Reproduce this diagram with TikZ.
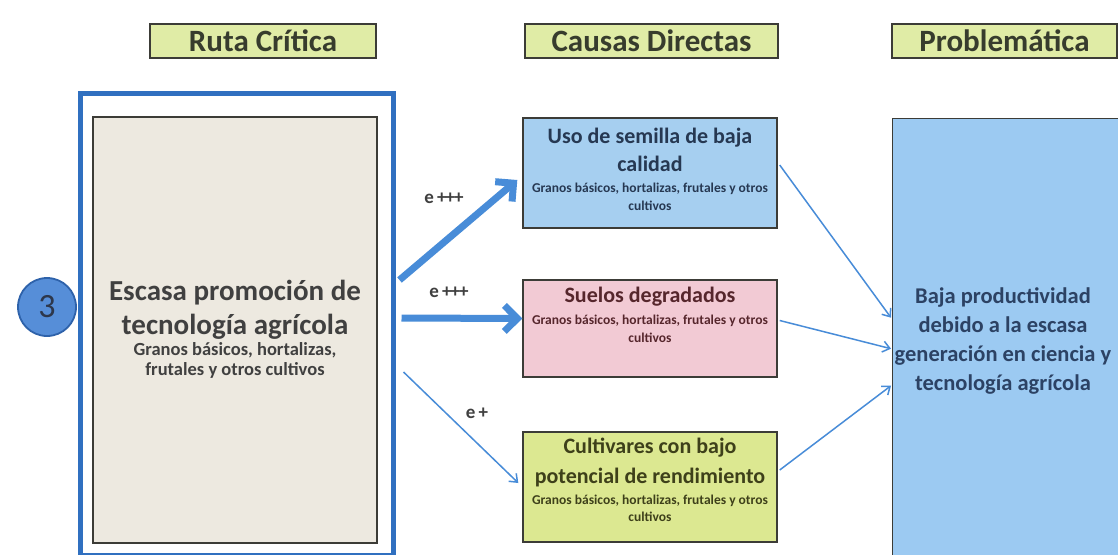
\documentclass[tikz,border=0pt]{standalone}
\usepackage{fontspec}
\setmainfont{Carlito}
\usetikzlibrary{positioning,arrows.meta}
\definecolor{headfill}{RGB}{224,236,166}
\definecolor{headtext}{RGB}{55,60,45}
\definecolor{boxline}{RGB}{60,60,55}
\definecolor{framblue}{RGB}{48,112,192}
\definecolor{arrowblue}{RGB}{72,140,216}
\definecolor{beigefill}{RGB}{237,233,224}
\definecolor{semillafill}{RGB}{166,207,240}
\definecolor{suelofill}{RGB}{242,202,212}
\definecolor{cultfill}{RGB}{220,232,145}
\definecolor{probfill}{RGB}{156,202,242}
\definecolor{numfill}{RGB}{86,142,216}
\definecolor{numline}{RGB}{46,98,170}
\colorlet{rutatext}{black!75}
\definecolor{numtext}{RGB}{45,55,75}
\definecolor{semillatext}{RGB}{38,56,82}
\definecolor{suelotext}{RGB}{86,38,44}
\definecolor{culttext}{RGB}{62,64,26}
\definecolor{probtext}{RGB}{44,66,100}

\begin{document}
\begin{tikzpicture}[x=1pt,y=1pt, every node/.style={font=\bfseries}]
        \clip (0,0) rectangle (1118,-554);
        \fill[white] (0,0) rectangle (1118,-554);
        \tikzset{
          encabezado/.style={draw=boxline,line width=1.3pt,fill=headfill,text=headtext,minimum height=34pt,inner sep=0pt,font=\bfseries\fontsize{31}{34}\selectfont},
          causa/.style={draw=boxline,line width=1.4pt,minimum width=254pt},
          titulo/.style={align=center,inner sep=0pt,font=\bfseries\fontsize{22}{28}\selectfont},
          detalle/.style={align=center,inner sep=0pt,font=\bfseries\fontsize{13.5}{18}\selectfont},
          grueso/.style={draw=arrowblue,line width=7pt,-{Straight Barb[length=13pt,width=26pt]}},
          fino/.style={draw=arrowblue,line width=1.5pt,-{Straight Barb[length=7pt,width=11pt]}},
          peso/.style={font=\bfseries\fontsize{19}{22}\selectfont,text=black!75,inner sep=1pt}
        }
        % encabezados
        \node[encabezado,minimum width=226pt] (hruta) at (263,-41) {Ruta Crítica};
        \node[encabezado,minimum width=253pt] (hcausas) at (651.5,-41) {Causas Directas};
        \node[encabezado,minimum width=225pt] (hprob) at (1004.5,-41) {Problemática};
        % ruta critica
        \node[draw=framblue,line width=5pt,minimum width=313pt,minimum height=462pt] (marco) at (236.5,-324) {};
        \node[draw=boxline,line width=1.2pt,fill=beigefill,minimum width=284pt,minimum height=426pt] (ruta) at (235,-330) {};
        \node[align=center,inner sep=0pt,text=rutatext,font=\bfseries\fontsize{29}{34}\selectfont] (rutatit) at ([yshift=20]ruta.center) {Escasa promoción de\\tecnología agrícola};
        \node[align=center,inner sep=0pt,text=rutatext,font=\bfseries\fontsize{18.5}{20}\selectfont,below=2pt of rutatit] (rutasub) {Granos básicos, hortalizas,\\frutales y otros cultivos};
        \node[circle,draw=numline,line width=1.8pt,fill=numfill,minimum size=58pt,inner sep=0pt,text=numtext,font=\fontsize{34}{34}\selectfont] (num) at (47,-307) {3};
        % causas directas
        \node[causa,fill=semillafill,minimum height=110pt] (semilla) at (650,-173) {};
        \node[titulo,text=semillatext] (semillatit) at ([yshift=-33]semilla.north) {Uso de semilla de baja\\calidad};
        \node[detalle,text=semillatext] (semillasub) at ([yshift=-80]semilla.north) {Granos básicos, hortalizas, frutales y otros\\cultivos};
        \node[causa,fill=suelofill,minimum height=97pt] (suelos) at (650,-328.5) {};
        \node[titulo,text=suelotext] (suelostit) at ([yshift=-17]suelos.north) {Suelos degradados};
        \node[detalle,text=suelotext] (suelossub) at ([yshift=-50]suelos.north) {Granos básicos, hortalizas, frutales y otros\\cultivos};
        \node[causa,fill=cultfill,minimum height=110pt] (cultivares) at (650,-487) {};
        \node[titulo,text=culttext,font=\bfseries\fontsize{22}{30}\selectfont] (cultivarestit) at ([yshift=-31]cultivares.north) {Cultivares con bajo\\potencial de rendimiento};
        \node[detalle,text=culttext,font=\bfseries\fontsize{13.5}{17}\selectfont] (cultivaressub) at ([yshift=-77]cultivares.north) {Granos básicos, hortalizas, frutales y otros\\cultivos};
        % problematica
        \node[draw=boxline,line width=1.4pt,fill=probfill,minimum width=240pt,minimum height=442pt,anchor=north west] (problema) at (892,-118) {};
        \node[align=center,inner sep=0pt,text=probtext,font=\bfseries\fontsize{22.5}{29}\selectfont] (problematxt) at (1003,-341) {Baja productividad\\debido a la escasa\\generación en ciencia y\\tecnología agrícola};
        % flechas
        \draw[grueso] ([xshift=4pt,yshift=44pt]marco.east) -- ([xshift=-5pt,yshift=-7pt]semilla.west);
        \draw[grueso] ([xshift=6pt,yshift=6pt]marco.east) -- ([yshift=10pt]suelos.west);
        \draw[fino] ([xshift=8pt,yshift=-48pt]marco.east) -- ([xshift=-4pt,yshift=4pt]cultivares.west);
        \node[peso] (e1) at (444,-198) {e\,+\kern-1pt+\kern-1pt+};
        \node[peso] (e2) at (449,-292) {e\,+\kern-1pt+\kern-1pt+};
        \node[peso] (e3) at (477,-413) {e\,+};
        \draw[fino] ([xshift=2pt,yshift=8pt]semilla.east) -- ([xshift=-1pt,yshift=22pt]problema.west);
        \draw[fino] ([xshift=2pt,yshift=8pt]suelos.east) -- ([xshift=-1pt,yshift=-9pt]problema.west);
        \draw[fino] ([xshift=2pt,yshift=17pt]cultivares.east) -- ([xshift=-1pt,yshift=-46pt]problema.west);
      \end{tikzpicture}
\end{document}
